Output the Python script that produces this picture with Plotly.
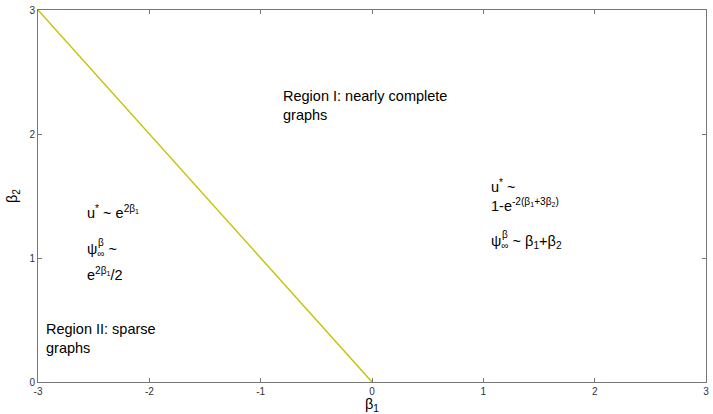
import plotly.graph_objects as go

# Phase boundary beta1 + beta2 = 0 (for beta2 in [0, 3])
boundary_b1 = [-3, 0]
boundary_b2 = [3, 0]

x_ticks = [-3, -2, -1, 0, 1, 2, 3]
x_tick_labels = ["-3", "-2", "-1", "0", "1", "2", "3"]
y_ticks = [0, 1, 2, 3]
y_tick_labels = ["0", "1", "2", "3"]

FONT = "Liberation Sans, Arial, sans-serif"
TXT = dict(family=FONT, size=14.5, color="#000000")
SMALL = dict(family=FONT, size=10, color="#000000")

fig = go.Figure()
fig.add_trace(go.Scatter(
    x=boundary_b1, y=boundary_b2, mode="lines",
    line=dict(color="#c2c200", width=1.4), showlegend=False, hoverinfo="skip",
))


def note(x, y, text, font=TXT, xshift=0, yshift=0):
    fig.add_annotation(x=x, y=y, xref="x", yref="y", text=text, showarrow=False,
                       xanchor="left", yanchor="top", align="left", font=font,
                       xshift=xshift, yshift=yshift)


note(-0.82, 2.39, "Region I: nearly complete<br>graphs")
note(-2.95, 0.51, "Region II: sparse<br>graphs")

# left region formulas
note(-2.58, 1.46, "u<sup>*</sup> ~ e<sup>2β<sub>1</sub></sup>")
note(-2.58, 1.15, "ψ<sub>∞</sub> ~")
note(-2.58, 1.15, "β", font=SMALL, xshift=11, yshift=4)
note(-2.58, 0.96, "e<sup>2β<sub>1</sub></sup>/2")

# right region formulas
note(1.05, 1.67, "u<sup>*</sup> ~<br>1-e<sup>-2(β<sub>1</sub>+3β<sub>2</sub>)</sup>")
note(1.05, 1.22, "ψ<sub>∞</sub> ~ β<sub>1</sub>+β<sub>2</sub>")
note(1.05, 1.22, "β", font=SMALL, xshift=11, yshift=4)

axis_common = dict(
    showgrid=False, zeroline=False, showline=True, linecolor="#777777", linewidth=1,
    mirror="allticks", ticks="inside", ticklen=4, tickcolor="#777777",
    tickfont=dict(family=FONT, size=10, color="#333333"),
)
fig.update_xaxes(range=[-3, 3], tickvals=x_ticks, ticktext=x_tick_labels,
                 title=dict(text="β<sub>1</sub>", font=TXT, standoff=3), **axis_common)
fig.update_yaxes(range=[0, 3], tickvals=y_ticks, ticktext=y_tick_labels,
                 title=dict(text="β<sub>2</sub>", font=TXT, standoff=8), **axis_common)

fig.update_layout(
    width=713, height=414, margin=dict(l=38, r=4, t=9, b=31),
    plot_bgcolor="white", paper_bgcolor="white",
)
fig.write_html("out.html")
